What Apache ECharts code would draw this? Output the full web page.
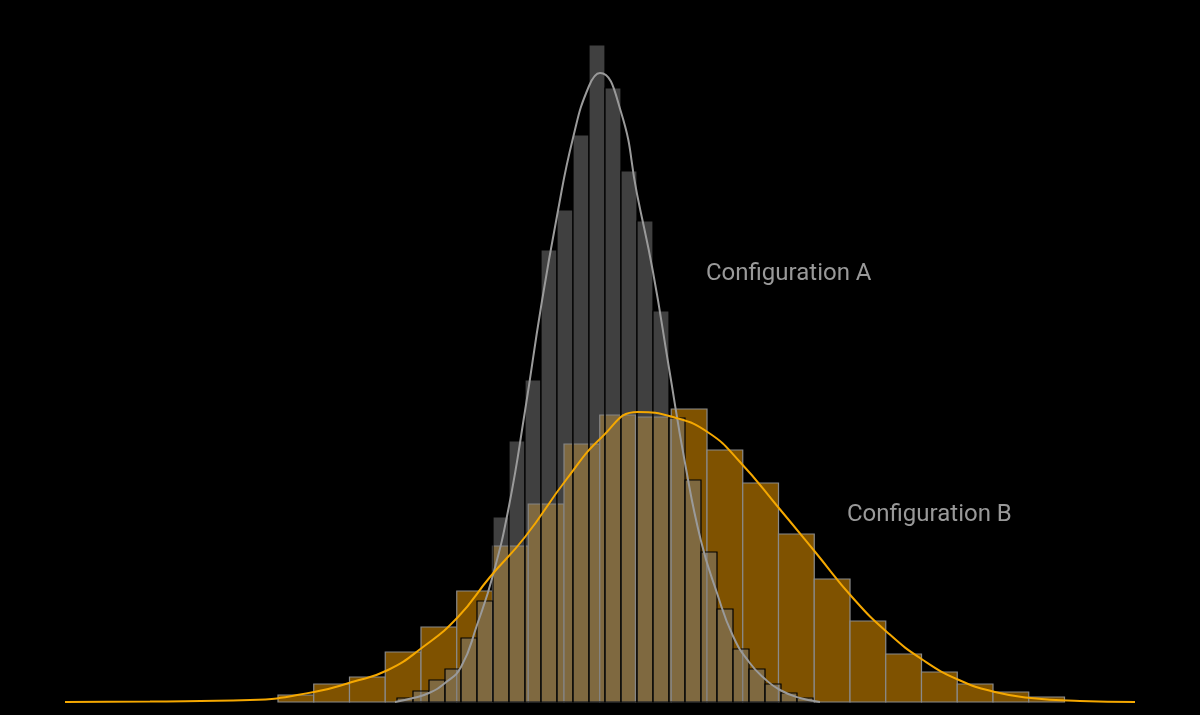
<!DOCTYPE html>
<html><head><meta charset="utf-8">
<script src="https://cdn.jsdelivr.net/npm/echarts@6/dist/echarts.min.js"></script>
<style>html,body{margin:0;background:#000}#c{width:1200px;height:715px}</style>
</head><body><div id="c"></div>
<script>
// Histogram A: bins start, width and counts
const binStartA = 397, binWidthA = 16;
const countsA = [4,11,22,33,64,101,185,261,322,452,492,567,657,614,531,481,391,284,222,150,93,53,33,18,9,4];
// Histogram B
const binStartB = 278, binWidthB = 35.75;
const countsB = [7,18,25,50,75,111,156,198,258,287,285,293,252,219,168,123,81,48,30,18,10,5];
// Density curves (x, density)
const curveAx = [395,413,429,445,461,477,493,509,525,541,557,573,589,600,621,637,653,669,685,701,717,733,749,765,780,800,820];
const curveAy = [0,4,9,19,35,77,127,196,291,395,486,564,616,629,590,508,430,334,239,161,109,66,40,23,12,4,0];
const curveBx = [65,150,250,314,352,388,423,458,490,525,566,602,638,673,709,740,778,816,852,888,923,959,995,1031,1080,1135];
const curveBy = [0,0.5,2,10,20,32,55,85,125,165,222,265,290,285,269,240,195,149,105,69,42,22,10,4,1,0];
const labels = ['Configuration A','Configuration B'];

function bins(start, w, counts){ return counts.map((c,i)=>[start+i*w, start+(i+1)*w, c]); }
function barItem(fill, stroke, lw){
  return function(params, api){
    const p0 = api.coord([api.value(0), api.value(2)]);
    const p1 = api.coord([api.value(1), 0]);
    return {type:'rect', shape:{x:p0[0], y:p0[1], width:p1[0]-p0[0], height:p1[1]-p0[1]},
      style:{fill:fill, stroke:stroke, lineWidth:lw}};
  };
}
const chart = echarts.init(document.getElementById('c'));
chart.setOption({
  backgroundColor:'#000',
  animation:false,
  grid:{left:65,right:65,top:15,bottom:13},
  xAxis:{type:'value',min:65,max:1135,show:false},
  yAxis:{type:'value',min:0,max:687,show:false},
  series:[
    {type:'custom', renderItem:barItem('#7f5200','#8a8a8a',1.2), data:bins(binStartB,binWidthB,countsB), z:1},
    {type:'custom', renderItem:barItem('rgba(128,128,128,0.5)','#000',1.2), data:bins(binStartA,binWidthA,countsA), z:2},
    {type:'line', smooth:true, symbol:'none', data:curveAx.map((x,i)=>[x,curveAy[i]]), lineStyle:{color:'#9a9a9a',width:2}, z:3},
    {type:'line', smooth:true, symbol:'none', data:curveBx.map((x,i)=>[x,curveBy[i]]), lineStyle:{color:'#f5a800',width:2}, z:4}
  ],
  graphic:[
    {type:'text', left:706, top:262, style:{text:labels[0], fill:'#999', font:'24px Roboto'}},
    {type:'text', left:847, top:503, style:{text:labels[1], fill:'#999', font:'24px Roboto'}}
  ]
});
</script></body></html>
